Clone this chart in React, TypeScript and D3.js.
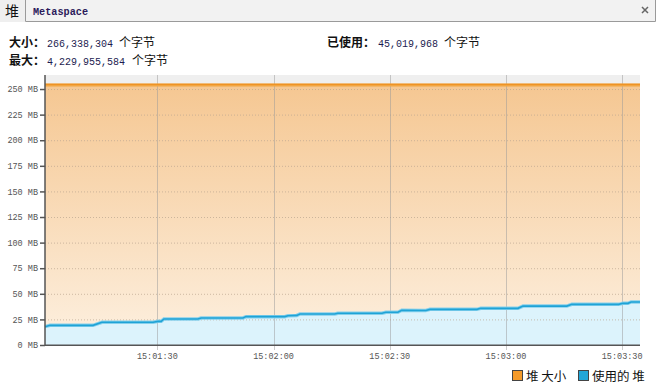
import { useEffect, useRef } from 'react';
import * as d3 from 'd3';

const sampleSeconds = [
  61.0, 62.3, 73.4, 75.7, 88.9, 90.2, 91.0, 91.7, 100.5, 101.3, 112.1, 112.9, 122.9, 123.7,
  126.0, 126.8, 135.8, 136.6, 148.0, 149.0, 152.1, 153.1, 159.3, 160.4, 172.5, 173.5, 183.1,
  184.4, 195.7, 197.0, 209.1, 210.2, 211.5, 212.3, 214.6,
];
const usedHeapMB = [
  17.9, 19.2, 19.2, 22.2, 22.2, 23.1, 23.1, 25.4, 25.4, 26.4, 26.4, 27.7, 27.7, 28.6, 28.9,
  30.3, 30.3, 31.0, 31.0, 32.0, 32.0, 33.9, 33.7, 34.8, 34.8, 35.8, 35.8, 38.0, 38.0, 39.7,
  39.7, 40.7, 40.7, 42.0, 42.0,
];
const heapSizeMB = [254.0, 254.0];
const yTickMB = [0, 25, 50, 75, 100, 125, 150, 175, 200, 225, 250];
const yMaxMB = 263.7;

const sizeBytes = '266,338,304';
const maxBytes = '4,229,955,584';
const usedBytes = '45,019,968';

const CJK = '"Noto Sans CJK SC", sans-serif';
const MONO = '"Liberation Mono", "DejaVu Sans Mono", monospace';

const toDate = (s: number) => new Date(2024, 0, 1, 15, 0, 0, Math.round(s * 1000));

export default function App() {
  const svgRef = useRef<SVGSVGElement | null>(null);

  useEffect(() => {
    const svg = svgRef.current;
    if (!svg) return;

    const width = 658;
    const height = 389;
    const plot = { left: 45, right: 640, top: 75, bottom: 345 };

    const root = d3.select(svg);
    root.selectAll('*').remove();

    const t0 = toDate(sampleSeconds[0]);
    const t1 = toDate(sampleSeconds[sampleSeconds.length - 1]);

    const x = d3.scaleTime().domain([t0, t1]).range([plot.left, plot.right]);
    const y = d3.scaleLinear().domain([0, yMaxMB]).range([plot.bottom, plot.top]);

    // tab bar
    root.append('rect').attr('x', 0).attr('y', 0).attr('width', 655).attr('height', 21).attr('fill', '#f2f2f2');
    root.append('rect').attr('x', 0).attr('y', 0).attr('width', 25).attr('height', 22).attr('fill', '#efefef');
    root
      .append('path')
      .attr('d', 'M25.5,0V21.5H655.5V0')
      .attr('fill', 'none')
      .attr('stroke', '#9a9a9a');
    root
      .append('text')
      .attr('x', 5)
      .attr('y', 16)
      .attr('font-family', CJK)
      .attr('font-size', 14)
      .attr('fill', '#111')
      .text('堆');
    root
      .append('text')
      .attr('x', 33)
      .attr('y', 15)
      .attr('font-family', '"Liberation Mono", monospace')
      .attr('font-weight', 'bold')
      .attr('font-size', 10.2)
      .attr('fill', '#2b1a5a')
      .text('Metaspace');
    root
      .append('path')
      .attr('d', 'M642,7L648,13M648,7L642,13')
      .attr('stroke', '#666')
      .attr('stroke-width', 1.5);

    // header figures
    const info = (xl: number, yb: number, label: string, value: string, xv: number, xu: number) => {
      root
        .append('text')
        .attr('x', xl)
        .attr('y', yb)
        .attr('font-family', CJK)
        .attr('font-weight', 'bold')
        .attr('font-size', 12)
        .attr('fill', '#111')
        .text(label);
      root
        .append('text')
        .attr('x', xv)
        .attr('y', yb)
        .attr('font-family', MONO)
        .attr('font-size', 10)
        .attr('fill', '#1c1c50')
        .text(value);
      root
        .append('text')
        .attr('x', xu)
        .attr('y', yb)
        .attr('font-family', CJK)
        .attr('font-size', 12)
        .attr('fill', '#111')
        .text('个字节');
    };
    info(9, 47, '大小：', sizeBytes, 47, 119);
    info(9, 65, '最大：', maxBytes, 47, 132);
    info(327, 47, '已使用：', usedBytes, 378, 444);

    // plot background and fills
    const defs = root.append('defs');
    const grad = defs
      .append('linearGradient')
      .attr('id', 'heapGrad')
      .attr('x1', 0)
      .attr('y1', 0)
      .attr('x2', 0)
      .attr('y2', 1);
    grad.append('stop').attr('offset', '0%').attr('stop-color', '#f5c792');
    grad.append('stop').attr('offset', '100%').attr('stop-color', '#fdf0e0');

    root
      .append('rect')
      .attr('x', plot.left)
      .attr('y', plot.top)
      .attr('width', plot.right - plot.left)
      .attr('height', plot.bottom - plot.top)
      .attr('fill', '#efefef');

    const heapPts = [t0, t1].map((t, i) => ({ t, v: heapSizeMB[i] }));
    const usedPts = sampleSeconds.map((s, i) => ({ t: toDate(s), v: usedHeapMB[i] }));

    const area = d3
      .area<{ t: Date; v: number }>()
      .x((d) => x(d.t))
      .y0(y(0))
      .y1((d) => y(d.v));
    const line = d3
      .line<{ t: Date; v: number }>()
      .x((d) => x(d.t))
      .y((d) => y(d.v));

    root.append('path').datum(heapPts).attr('fill', 'url(#heapGrad)').attr('d', area as any);
    root.append('path').datum(usedPts).attr('fill', '#dcf3fc').attr('d', area as any);

    // grid
    const timeTicks = x.ticks(d3.timeSecond.every(30) as any);
    root
      .append('g')
      .selectAll('line')
      .data(yTickMB.filter((v) => v > 0))
      .join('line')
      .attr('x1', plot.left)
      .attr('x2', plot.right)
      .attr('y1', (d) => y(d) + 0.5)
      .attr('y2', (d) => y(d) + 0.5)
      .attr('stroke', '#b9a48e')
      .attr('stroke-opacity', 0.7)
      .attr('stroke-dasharray', '1,2');
    root
      .append('g')
      .selectAll('line')
      .data(timeTicks)
      .join('line')
      .attr('x1', (d) => Math.round(x(d)) + 0.5)
      .attr('x2', (d) => Math.round(x(d)) + 0.5)
      .attr('y1', plot.top)
      .attr('y2', plot.bottom + 5)
      .attr('stroke', '#999')
      .attr('stroke-opacity', 0.5);

    // series lines
    root
      .append('path')
      .datum(heapPts)
      .attr('fill', 'none')
      .attr('stroke', '#f2a541')
      .attr('stroke-width', 3)
      .attr('d', line as any);
    root
      .append('path')
      .datum(heapPts)
      .attr('fill', 'none')
      .attr('stroke', '#ee9325')
      .attr('stroke-width', 1.2)
      .attr('transform', 'translate(0,-0.5)')
      .attr('d', line as any);
    root
      .append('path')
      .datum(usedPts)
      .attr('fill', 'none')
      .attr('stroke', '#86d0ec')
      .attr('stroke-width', 3.5)
      .attr('d', line as any);
    root
      .append('path')
      .datum(usedPts)
      .attr('fill', 'none')
      .attr('stroke', '#1fa3d6')
      .attr('stroke-width', 1.6)
      .attr('d', line as any);

    // axes
    root
      .append('g')
      .attr('transform', `translate(${plot.left},0)`)
      .call(
        d3
          .axisLeft(y)
          .tickValues(yTickMB)
          .tickSize(5)
          .tickPadding(2)
          .tickFormat((d) => `${d} MB`)
      )
      .call((g) => g.select('.domain').remove())
      .call((g) => g.selectAll('line').attr('stroke', '#555').attr('stroke-width', 1.5))
      .call((g) =>
        g
          .selectAll('text')
          .attr('fill', '#555')
          .attr('font-family', MONO)
          .attr('font-size', 8.5)
      );
    root
      .append('line')
      .attr('x1', plot.left)
      .attr('x2', plot.left)
      .attr('y1', plot.top)
      .attr('y2', plot.bottom + 0.75)
      .attr('stroke', '#555')
      .attr('stroke-width', 1.5);

    root
      .append('line')
      .attr('x1', plot.left)
      .attr('x2', plot.right)
      .attr('y1', plot.bottom + 0.25)
      .attr('y2', plot.bottom + 0.25)
      .attr('stroke', '#555')
      .attr('stroke-width', 1.5);
    root
      .append('g')
      .selectAll('text')
      .data(timeTicks)
      .join('text')
      .attr('x', (d) => x(d))
      .attr('y', plot.bottom + 14)
      .attr('text-anchor', 'middle')
      .attr('fill', '#555')
      .attr('font-family', MONO)
      .attr('font-size', 8.5)
      .text((d) => d3.timeFormat('%H:%M:%S')(d));

    // legend
    const legend = [
      { label: '堆 大小', color: '#f49a2a', x: 512 },
      { label: '使用的 堆', color: '#22a6d8', x: 578 },
    ];
    const lg = root.append('g').selectAll('g').data(legend).join('g');
    lg.append('rect')
      .attr('x', (d) => d.x + 0.5)
      .attr('y', 370.5)
      .attr('width', 10)
      .attr('height', 10)
      .attr('fill', (d) => d.color)
      .attr('stroke', '#444');
    lg.append('text')
      .attr('x', (d) => d.x + 14)
      .attr('y', 381)
      .attr('font-family', CJK)
      .attr('font-size', 12.5)
      .attr('fill', '#111')
      .text((d) => d.label);

    root.attr('viewBox', `0 0 ${width} ${height}`);
  }, []);

  return (
    <svg
      ref={svgRef}
      width={658}
      height={389}
      style={{ position: 'fixed', left: 0, top: 0, background: '#fff' }}
    />
  );
}
